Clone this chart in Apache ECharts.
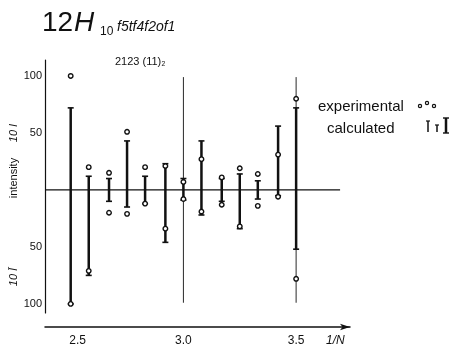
<!DOCTYPE html>
<html>
<head>
<meta charset="utf-8">
<script src="https://cdn.jsdelivr.net/npm/echarts@6.0.0/dist/echarts.min.js"></script>
<style>
  html, body { margin: 0; padding: 0; background: #fff; }
  #chart { width: 455px; height: 348px; }
</style>
</head>
<body>
<div id="chart"></div>
<script>
// positions along 1/N
const xPos = [2.5, 2.58, 2.67, 2.75, 2.83, 2.92, 3.0, 3.08, 3.17, 3.25, 3.33, 3.42, 3.5]
// calculated intensities, I (up) and I-bar (down, drawn negative)
const calcUp = [72, 12, 10, 43, 12, 23, 10, 43, 10, 14, 8, 56, 72]
const calcDown = [-100, -75, -10, -15, -12, -46, -9, -22, -10, -34, -8, -5, -52]
// experimental intensities
const expUp = [100, 20, 15, 51, 20, 21, 7, 27, 11, 19, 14, 31, 80]
const expDown = [-100, -71, -20, -21, -12, -34, -8, -19, -13, -32, -14, -6, -78]
// reference verticals
const refX = [3.0, 3.5]
const refTop = [99, 99]
const refBottom = [-99, -99]
const baseX = [2.39, 3.695]
const xTicks = [2.5, 3.0, 3.5]
const yTicks = [-100, -50, 50, 100]

const ink = '#111'
const font = 'Liberation Sans'

const chart = echarts.init(document.getElementById('chart'))

const calcData = xPos.map((x, i) => [x, calcUp[i], calcDown[i]])
const expData = xPos.map((x, i) => [x, expUp[i]]).concat(xPos.map((x, i) => [x, expDown[i]]))
const refData = refX.map((x, i) => [x, refTop[i], refBottom[i]])

const option = {
  animation: false,
  textStyle: { fontFamily: font, color: ink },
  grid: { left: 45, top: 60, width: 305, height: 253 },
  xAxis: {
    type: 'value',
    min: 2.386,
    max: 3.739,
    offset: 14,
    axisLine: {
      onZero: false,
      symbol: ['none', 'arrow'],
      symbolSize: [5, 10],
      lineStyle: { color: ink, width: 1.5 },
    },
    axisTick: { show: false },
    splitLine: { show: false },
    axisLabel: {
      customValues: xTicks,
      color: ink,
      fontSize: 12,
      margin: 8,
      formatter: (v) => v === 2.5 ? '{p|2.5}' : v.toFixed(1),
      rich: { p: { fontSize: 12, color: ink, padding: [0, 0, 0, 14] } },
    },
  },
  yAxis: {
    type: 'value',
    min: -108,
    max: 114,
    axisLine: { show: true, onZero: false, lineStyle: { color: ink, width: 1.2 } },
    axisTick: { show: false },
    splitLine: { show: false },
    axisLabel: {
      customValues: yTicks,
      color: ink,
      fontSize: 11,
      margin: 3,
      formatter: (v) => String(Math.abs(v)),
    },
  },
  series: [
    {
      type: 'line',
      data: baseX.map((x) => [x, 0]),
      symbol: 'none',
      lineStyle: { color: ink, width: 1.2 },
      z: 1,
    },
    {
      type: 'custom',
      data: refData,
      encode: { x: 0, y: [1, 2] },
      renderItem: (params, api) => {
        const a = api.coord([api.value(0), api.value(1)])
        const b = api.coord([api.value(0), api.value(2)])
        return {
          type: 'line',
          shape: { x1: a[0], y1: a[1], x2: b[0], y2: b[1] },
          style: { stroke: ink, lineWidth: 0.9 },
        }
      },
      z: 2,
    },
    {
      type: 'custom',
      data: calcData,
      encode: { x: 0, y: [1, 2] },
      renderItem: (params, api) => {
        const top = api.coord([api.value(0), api.value(1)])
        const bot = api.coord([api.value(0), api.value(2)])
        const w = 3
        return {
          type: 'group',
          children: [
            { type: 'line', shape: { x1: top[0], y1: top[1], x2: bot[0], y2: bot[1] }, style: { stroke: ink, lineWidth: 2.5 } },
            { type: 'line', shape: { x1: top[0] - w, y1: top[1], x2: top[0] + w, y2: top[1] }, style: { stroke: ink, lineWidth: 1.6 } },
            { type: 'line', shape: { x1: bot[0] - w, y1: bot[1], x2: bot[0] + w, y2: bot[1] }, style: { stroke: ink, lineWidth: 1.6 } },
          ],
        }
      },
      z: 3,
    },
    {
      type: 'scatter',
      data: expData,
      symbol: 'circle',
      symbolSize: 4.5,
      itemStyle: { color: '#fff', borderColor: ink, borderWidth: 1.4, opacity: 1 },
      z: 4,
    },
  ],
  graphic: [
    { type: 'text', left: 42, top: 9, style: { text: '12', font: '28px "Liberation Sans"', fill: ink } },
    { type: 'text', left: 74, top: 9, style: { text: 'H', font: 'italic 28px "Liberation Sans"', fill: ink } },
    { type: 'text', left: 100, top: 26, style: { text: '10', font: '12px "Liberation Sans"', fill: ink } },
    { type: 'text', left: 117, top: 20, style: { text: 'f5tf4f2of1', font: 'italic 14px "Liberation Sans"', fill: ink } },
    { type: 'text', left: 115, top: 56, style: { text: '2123 (11)₂', font: '11px "Liberation Sans"', fill: ink } },
    { type: 'text', x: 14, y: 133, rotation: Math.PI / 2, style: { text: '10 I', font: 'italic 11px "Liberation Sans"', fill: ink, align: 'center', verticalAlign: 'middle' } },
    { type: 'text', x: 14, y: 178, rotation: Math.PI / 2, style: { text: 'intensity', font: '11px "Liberation Sans"', fill: ink, align: 'center', verticalAlign: 'middle' } },
    { type: 'text', x: 14, y: 277, rotation: Math.PI / 2, style: { text: '10 Ī', font: 'italic 11px "Liberation Sans"', fill: ink, align: 'center', verticalAlign: 'middle' } },
    { type: 'text', x: 326, y: 341, style: { text: '1/N', font: 'italic 12px "Liberation Sans"', fill: ink, verticalAlign: 'middle' } },
    // legend
    { type: 'text', x: 318, y: 107, style: { text: 'experimental', font: '15px "Liberation Sans"', fill: ink, verticalAlign: 'middle' } },
    { type: 'text', x: 327, y: 129, style: { text: 'calculated', font: '15px "Liberation Sans"', fill: ink, verticalAlign: 'middle' } },
    { type: 'circle', shape: { cx: 420, cy: 106, r: 1.6 }, style: { fill: '#fff', stroke: ink, lineWidth: 1.2 } },
    { type: 'circle', shape: { cx: 427, cy: 103, r: 1.6 }, style: { fill: '#fff', stroke: ink, lineWidth: 1.2 } },
    { type: 'circle', shape: { cx: 434, cy: 106, r: 1.6 }, style: { fill: '#fff', stroke: ink, lineWidth: 1.2 } },
    { type: 'line', shape: { x1: 428, y1: 121, x2: 428, y2: 132 }, style: { stroke: ink, lineWidth: 1.5 } },
    { type: 'line', shape: { x1: 426, y1: 121, x2: 430, y2: 121 }, style: { stroke: ink, lineWidth: 1.2 } },
    { type: 'line', shape: { x1: 437, y1: 125, x2: 437, y2: 132 }, style: { stroke: ink, lineWidth: 1.5 } },
    { type: 'line', shape: { x1: 435, y1: 125, x2: 439, y2: 125 }, style: { stroke: ink, lineWidth: 1.2 } },
    { type: 'line', shape: { x1: 446, y1: 118, x2: 446, y2: 133 }, style: { stroke: ink, lineWidth: 2.5 } },
    { type: 'line', shape: { x1: 443, y1: 118, x2: 449, y2: 118 }, style: { stroke: ink, lineWidth: 1.4 } },
    { type: 'line', shape: { x1: 443, y1: 133, x2: 449, y2: 133 }, style: { stroke: ink, lineWidth: 1.4 } },
  ],
}

chart.setOption(option)
</script>
</body>
</html>
